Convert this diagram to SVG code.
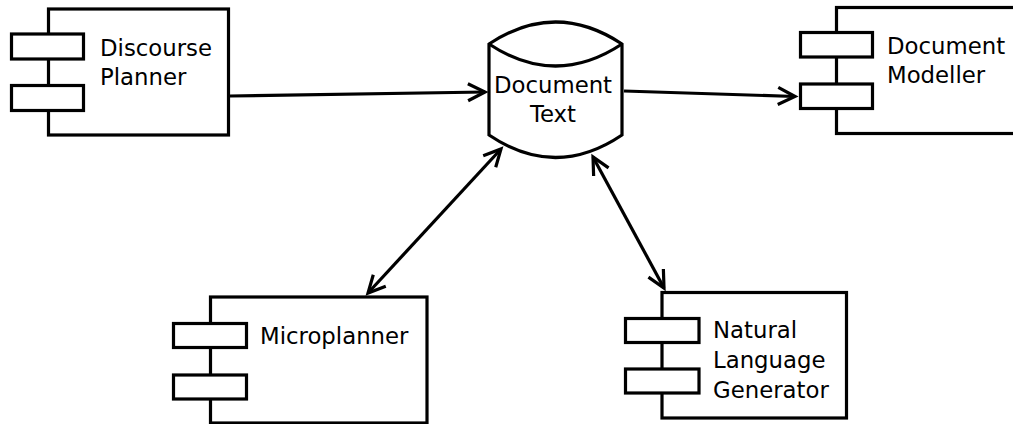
<svg xmlns="http://www.w3.org/2000/svg" width="1013" height="424" viewBox="0 0 1013 424">
<style>
.box{fill:#fff;stroke:#000;stroke-width:3.2}
.lbl{font-family:"DejaVu Sans",sans-serif;font-size:22.8px;fill:#000}
.mid{text-anchor:middle}
.conn{fill:none;stroke:#000;stroke-width:3.2}
</style>
<defs>
<marker id="arr" markerUnits="userSpaceOnUse" viewBox="-22 -12 26 24" refX="0" refY="0" markerWidth="26" markerHeight="24" orient="auto-start-reverse">
<path d="M-17,-8.5 L0,0 L-17,8.5" fill="none" stroke="#000" stroke-width="3.2"/>
</marker>
</defs>
<g id="connectors">
<path class="conn" d="M230,96 L485,92" marker-end="url(#arr)"/>
<path class="conn" d="M624,91 L795,96.5" marker-end="url(#arr)"/>
<path class="conn" d="M501,149 L368,293" marker-start="url(#arr)" marker-end="url(#arr)"/>
<path class="conn" d="M593,157 L664,288" marker-start="url(#arr)" marker-end="url(#arr)"/>
</g>
<g id="discourse-planner">
<rect class="box" x="48.5" y="9" width="180" height="126"/>
<rect class="box" x="11.5" y="34" width="72" height="25"/>
<rect class="box" x="11.5" y="85.5" width="72" height="25"/>
<text class="lbl" x="100" y="56">Discourse</text>
<text class="lbl" x="100" y="85">Planner</text>
</g>
<g id="document-text">
<path class="box" d="M489,44 Q555.5,0 622,44 L622,135 Q555.5,180 489,135 Z"/>
<path class="conn" d="M489,44 Q555.5,88 622,44"/>
<text class="lbl mid" x="553" y="93">Document</text>
<text class="lbl mid" x="553" y="122">Text</text>
</g>
<g id="document-modeller">
<rect class="box" x="836.5" y="7.5" width="180" height="126"/>
<rect class="box" x="800.5" y="32.5" width="72" height="24.5"/>
<rect class="box" x="800.5" y="84" width="72" height="24.5"/>
<text class="lbl" x="887" y="54">Document</text>
<text class="lbl" x="887" y="83">Modeller</text>
</g>
<g id="microplanner">
<rect class="box" x="210.5" y="297" width="216.5" height="126"/>
<rect class="box" x="173.5" y="323.5" width="73" height="24"/>
<rect class="box" x="173.5" y="375" width="73" height="24"/>
<text class="lbl" x="260" y="344">Microplanner</text>
</g>
<g id="natural-language-generator">
<rect class="box" x="662" y="292.5" width="184.5" height="125.5"/>
<rect class="box" x="625.5" y="318.5" width="73.5" height="24"/>
<rect class="box" x="625.5" y="369" width="73.5" height="24"/>
<text class="lbl" x="713" y="338">Natural</text>
<text class="lbl" x="713" y="368">Language</text>
<text class="lbl" x="713" y="398">Generator</text>
</g>
</svg>
